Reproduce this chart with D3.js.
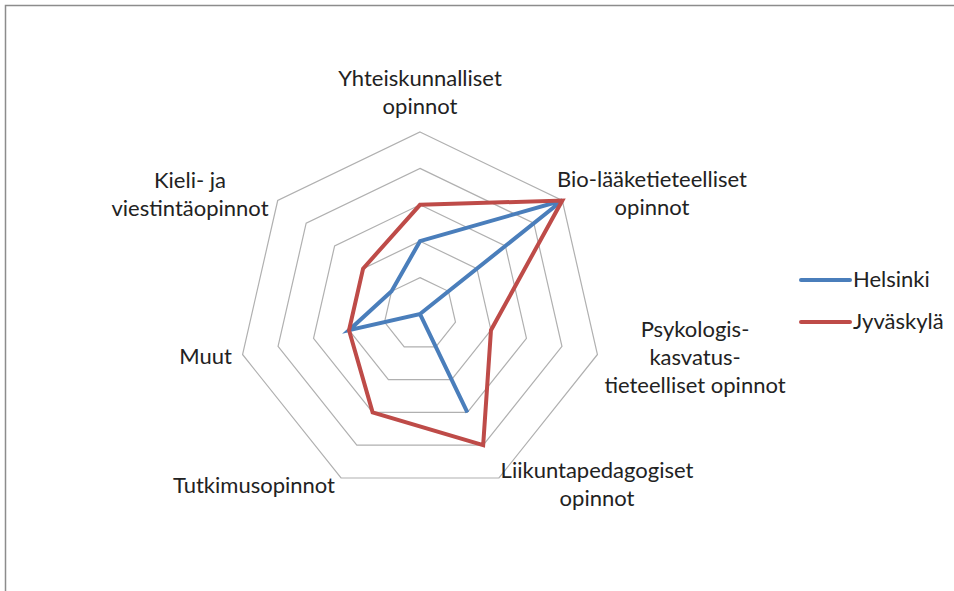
<!DOCTYPE html>
<html>
<head>
<meta charset="utf-8">
<script src="https://cdn.jsdelivr.net/npm/d3@7"></script>
<style>
  body { margin: 0; background: #fff; }
  text { font-family: Lato, "Open Sans", sans-serif; fill: #222; }
</style>
</head>
<body>
<div id="radar"></div>
<script>
// categories clockwise from the top, each split into its printed lines
var categories = [
    ["Yhteiskunnalliset", "opinnot"],
    ["Bio-lääketieteelliset", "opinnot"],
    ["Psykologis-", "kasvatus-", "tieteelliset opinnot"],
    ["Liikuntapedagogiset", "opinnot"],
    ["Tutkimusopinnot"],
    ["Muut"],
    ["Kieli- ja", "viestintäopinnot"]
];
var seriesNames = ["Helsinki", "Jyväskylä"];
var helsinki = [2, 5, 0, 3, 0, 2, 1];
var jyvaskyla = [3, 5, 2, 4, 3, 2, 2];
var ringTicks = [1, 2, 3, 4, 5];

var width = 954, height = 591;
var cx = 420, cy = 314, radius = 182;
var colors = ["#4a7ebb", "#be4b48"];
var fontSize = 22;

// where each label block sits: anchor point of the first baseline
var labelPlace = [
    {x: 420, y: 86, anchor: "middle"},
    {x: 652, y: 187, anchor: "middle"},
    {x: 695, y: 337, anchor: "middle"},
    {x: 597, y: 478, anchor: "middle"},
    {x: 335, y: 493, anchor: "end"},
    {x: 232, y: 364, anchor: "end"},
    {x: 190, y: 188, anchor: "middle"}
];
var lineGap = 28;

var svg = d3.select("#radar")
    .append("svg")
    .attr("width", width)
    .attr("height", height);

// frame edges visible in the screenshot
svg.append("path")
    .attr("d", "M5.5," + height + "V5.5H" + width)
    .attr("fill", "none")
    .attr("stroke", "#8c8c8c")
    .attr("stroke-width", 1.5);

var r = d3.scaleLinear()
    .domain([0, 5])
    .range([0, radius]);

var angle = d3.scaleLinear()
    .domain([0, categories.length])
    .range([0, 2 * Math.PI]);

var g = svg.append("g")
    .attr("transform", "translate(" + cx + "," + cy + ")");

var radial = d3.lineRadial()
    .angle(function(d, i) { return angle(i); })
    .radius(function(d) { return r(d); })
    .curve(d3.curveLinearClosed);

// rings
g.selectAll(".ring")
    .data(ringTicks)
    .enter()
    .append("path")
    .attr("class", "ring")
    .attr("d", function(t) {
        return radial(categories.map(function() { return t; }));
    })
    .attr("fill", "none")
    .attr("stroke", "#b0b0b0")
    .attr("stroke-width", 1.2);

// series
g.selectAll(".series")
    .data([helsinki, jyvaskyla])
    .enter()
    .append("path")
    .attr("class", "series")
    .attr("d", radial)
    .attr("fill", "none")
    .attr("stroke", function(d, i) { return colors[i]; })
    .attr("stroke-width", 4)
    .attr("stroke-linejoin", "miter");

// category labels
var labels = svg.selectAll(".label")
    .data(categories)
    .enter()
    .append("text")
    .attr("class", "label")
    .attr("font-size", fontSize)
    .attr("text-anchor", function(d, i) { return labelPlace[i].anchor; });

labels.selectAll("tspan")
    .data(function(d, i) {
        return d.map(function(line) { return {line: line, i: i}; });
    })
    .enter()
    .append("tspan")
    .attr("x", function(d) { return labelPlace[d.i].x; })
    .attr("y", function(d, j) { return labelPlace[d.i].y + j * lineGap; })
    .text(function(d) { return d.line; });

// legend
var legend = svg.selectAll(".legend")
    .data(seriesNames)
    .enter()
    .append("g")
    .attr("class", "legend")
    .attr("transform", function(d, i) {
        return "translate(801," + (280 + i * 42) + ")";
    });

legend.append("line")
    .attr("x1", 0)
    .attr("x2", 49)
    .attr("stroke", function(d, i) { return colors[i]; })
    .attr("stroke-width", 4)
    .attr("stroke-linecap", "round");

legend.append("text")
    .attr("x", 52)
    .attr("y", 7)
    .attr("font-size", fontSize)
    .text(function(d) { return d; });
</script>
</body>
</html>
